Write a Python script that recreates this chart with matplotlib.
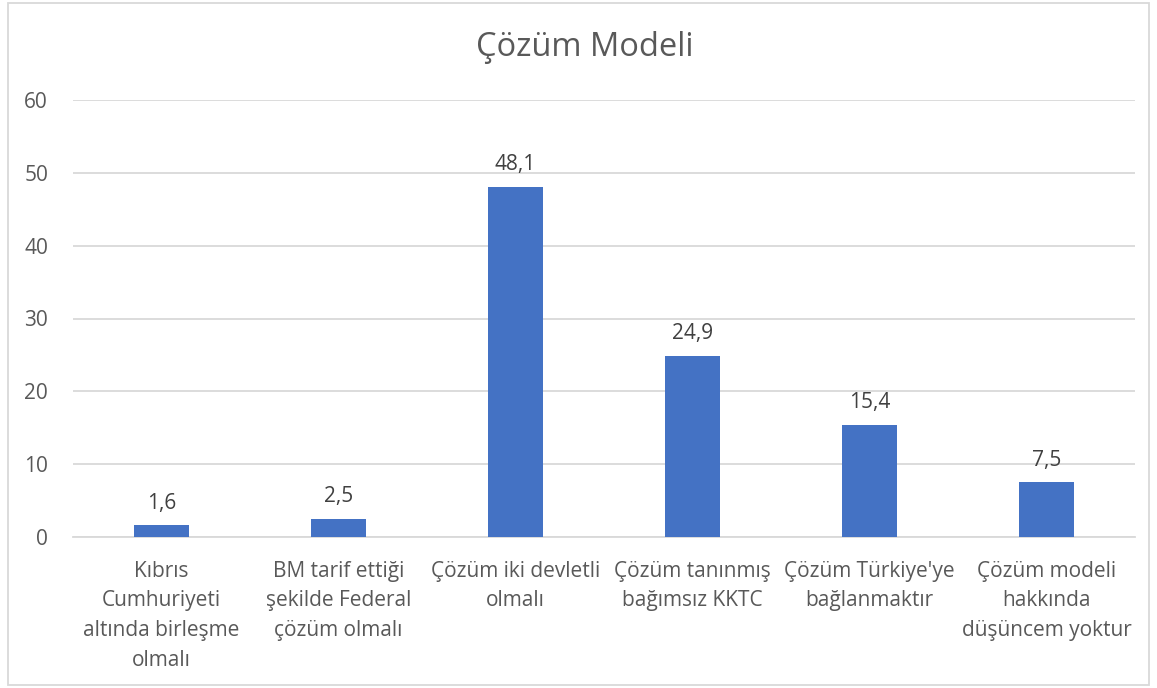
import matplotlib.pyplot as plt
from matplotlib.patches import Rectangle

plt.rcParams['font.family'] = ['Open Sans', 'DejaVu Sans']

categories = [
    "Kıbrıs\nCumhuriyeti\naltında birleşme\nolmalı",
    "BM tarif ettiği\nşekilde Federal\nçözüm olmalı",
    "Çözüm iki devletli\nolmalı",
    "Çözüm tanınmış\nbağımsız KKTC",
    "Çözüm Türkiye'ye\nbağlanmaktır",
    "Çözüm modeli\nhakkında\ndüşüncem yoktur",
]
values = [1.6, 2.5, 48.1, 24.9, 15.4, 7.5]
yticks = [0, 10, 20, 30, 40, 50, 60]

text_col = "#595959"
grid_col = "#D9D9D9"
bar_col = "#4472C4"

fig = plt.figure(figsize=(11.57, 6.88), dpi=100)
ax = fig.add_axes([73 / 1157, 1 - 537 / 688, 1062 / 1157, 437 / 688])

x = range(len(values))
bars = ax.bar(x, values, width=0.31, color=bar_col, zorder=3)

for b, v in zip(bars, values):
    ax.annotate(f"{v:.1f}".replace(".", ","),
                (b.get_x() + b.get_width() / 2, v),
                xytext=(0, 8.5), textcoords="offset points",
                ha="center", va="bottom", fontsize=15, color="#404040")

ax.set_xlim(-0.5, len(values) - 0.5)
ax.set_ylim(0, 60)
ax.set_yticks(yticks)
ax.set_yticklabels([str(t) for t in yticks])
ax.yaxis.grid(True, color=grid_col, linewidth=1.3, zorder=0)
ax.set_xticks(list(x))
ax.set_xticklabels(categories, linespacing=1.55)

ax.tick_params(axis="both", length=0, labelsize=15, colors=text_col)
ax.tick_params(axis="y", pad=18)
ax.tick_params(axis="x", pad=17)
for s in ["top", "right", "left"]:
    ax.spines[s].set_visible(False)
ax.spines["bottom"].set_color(grid_col)
ax.spines["bottom"].set_linewidth(1.3)

fig.text(585 / 1157, 1 - 48 / 688, "Çözüm Modeli", ha="center", va="center",
         fontsize=23.5, color=text_col)

fig.patches.append(Rectangle((8 / 1157, 3 / 688), 1141 / 1157, 682 / 688,
                             transform=fig.transFigure, fill=False,
                             edgecolor=grid_col, linewidth=1.3))

fig.savefig("out.png", dpi=100)
